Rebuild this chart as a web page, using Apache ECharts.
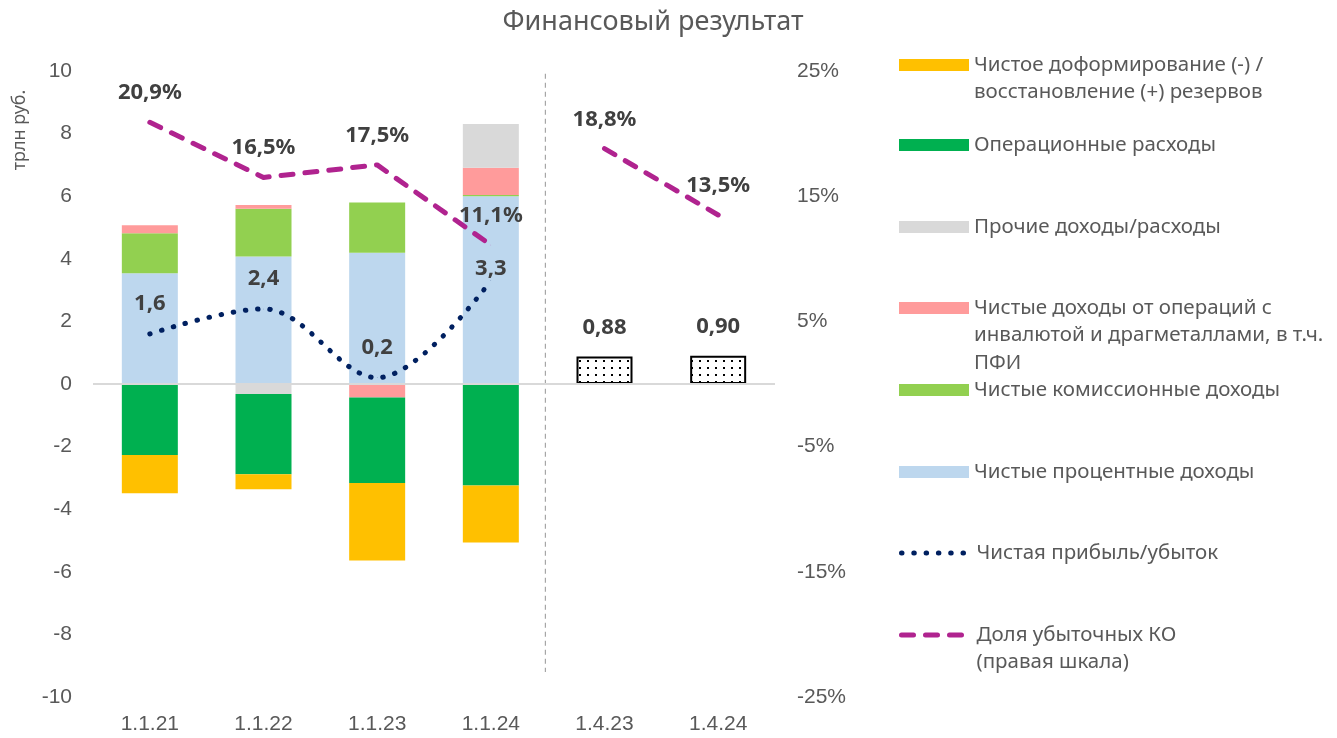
<!DOCTYPE html>
<html>
<head>
<meta charset="utf-8">
<script src="https://cdn.jsdelivr.net/npm/echarts@6/dist/echarts.min.js"></script>
<style>
  html, body { margin: 0; padding: 0; background: #ffffff; }
  #chart { width: 1337px; height: 738px; }
</style>
</head>
<body>
<div id="chart"></div>
<script>
// Categories (report dates)
const categories = ['1.1.21', '1.1.22', '1.1.23', '1.1.24', '1.4.23', '1.4.24'];

// Components of the financial result, трлн руб.
const interestIncome   = [3.54, 4.07, 4.19, 6.00, null, null];
const commissionIncome = [1.28, 1.53, 1.61, 0.04, null, null];
const fxIncome         = [0.25, 0.12, -0.43, 0.87, null, null];
const otherIncome      = [0.00, -0.32, 0.00, 1.40, null, null];
const operatingCosts   = [-2.27, -2.56, -2.73, -3.24, null, null];
const provisions       = [-1.22, -0.48, -2.48, -1.82, null, null];

// Net profit / loss, трлн руб.
const netProfit        = [1.6, 2.4, 0.2, 3.3, null, null];
const quarterProfit    = [null, null, null, null, 0.88, 0.90];

// Share of loss-making credit institutions, % (right axis)
const lossShareYear    = [20.9, 16.5, 17.5, 11.1, null, null];
const lossShareQuarter = [null, null, null, null, 18.8, 13.5];

// Axis ticks
const leftTicks  = { min: -10, max: 10, step: 2 };
const rightTicks = { min: -25, max: 25, step: 10 };

// Legend captions
const legendLabels = [
  'Чистое доформирование (-) /\nвосстановление (+) резервов',
  'Операционные расходы',
  'Прочие доходы/расходы',
  'Чистые доходы от операций с\nинвалютой и драгметаллами, в т.ч.\nПФИ',
  'Чистые комиссионные доходы',
  'Чистые процентные доходы',
  'Чистая прибыль/убыток',
  'Доля убыточных КО\n(правая шкала)'
];

const FONT = '"Noto Sans", "DejaVu Sans", sans-serif';
const TICK_FONT = '"Liberation Sans", Arial, sans-serif';
const TEXT = '#595959';
const LABEL = '#404040';

// Separator between the annual and the quarterly block (position on the hidden value x axis)
const DIVIDER_X = 3.48;
const DIVIDER_SPAN = [10.2, -9.2];

// dotted fill for the quarterly bars
function dotPattern() {
  const c = document.createElement('canvas');
  c.width = 8; c.height = 7;
  const g = c.getContext('2d');
  g.fillStyle = '#ffffff';
  g.fillRect(0, 0, 8, 7);
  g.fillStyle = '#000000';
  g.fillRect(3, 3, 2, 2);
  return c;
}

const fmt1 = v => v.toFixed(1).replace('.', ',');
const fmt2 = v => v.toFixed(2).replace('.', ',');

const valueLabel = (formatter, distance) => ({
  show: true, position: 'top', distance: distance,
  formatter: formatter,
  fontFamily: FONT, fontSize: 22, fontWeight: 'bold', color: LABEL
});

const chart = echarts.init(document.getElementById('chart'), null, { renderer: 'canvas' });

const barCommon = {
  type: 'bar',
  stack: 'fin',
  barWidth: 56,
  xAxisIndex: 0,
  yAxisIndex: 0,
  z: 2
};

const DOTTED = { color: '#002060', width: 5, type: [0.5, 11.8], cap: 'round' };
const DASHED = { color: '#B0238F', width: 5, type: [12, 12], cap: 'round', join: 'round' };

const series = [
  Object.assign({}, barCommon, {
    name: legendLabels[5], data: interestIncome, itemStyle: { color: '#BDD7EE' },
    markLine: {
      silent: true, symbol: ['none', 'none'], label: { show: false },
      lineStyle: { color: '#D9D9D9', width: 2, type: 'solid' },
      data: [{ yAxis: 0 }], z: 5
    }
  }),
  Object.assign({}, barCommon, { name: legendLabels[4], data: commissionIncome, itemStyle: { color: '#92D050' } }),
  Object.assign({}, barCommon, { name: legendLabels[3], data: fxIncome, itemStyle: { color: '#FF9B9B' } }),
  Object.assign({}, barCommon, { name: legendLabels[2], data: otherIncome, itemStyle: { color: '#D9D9D9' } }),
  Object.assign({}, barCommon, { name: legendLabels[1], data: operatingCosts, itemStyle: { color: '#00B050' } }),
  Object.assign({}, barCommon, { name: legendLabels[0], data: provisions, itemStyle: { color: '#FFC000' } }),
  Object.assign({}, barCommon, {
    name: 'Чистая прибыль за квартал',
    data: quarterProfit,
    itemStyle: { color: { image: dotPattern(), repeat: 'repeat' }, borderColor: '#000000', borderWidth: 2 },
    label: valueLabel(p => fmt2(p.value), 18)
  }),
  {
    name: legendLabels[6],
    type: 'line',
    xAxisIndex: 0, yAxisIndex: 0,
    data: netProfit.map((v, i) => (i === 3 ? { value: v, label: { distance: 1 } } : v)),
    smooth: 0.35,
    symbol: 'circle', symbolSize: 0.5, showSymbol: true,
    z: 4,
    lineStyle: DOTTED,
    itemStyle: { color: '#002060' },
    label: valueLabel(p => fmt1(p.value), 19),
    labelLayout: { hideOverlap: false }
  },
  {
    name: legendLabels[7],
    type: 'line',
    xAxisIndex: 0, yAxisIndex: 1,
    data: lossShareYear,
    symbol: 'circle', symbolSize: 0.5, showSymbol: true,
    z: 4,
    lineStyle: DASHED,
    itemStyle: { color: '#B0238F' },
    label: valueLabel(p => fmt1(p.value) + '%', 18)
  },
  {
    name: legendLabels[7],
    type: 'line',
    xAxisIndex: 0, yAxisIndex: 1,
    data: lossShareQuarter,
    symbol: 'circle', symbolSize: 0.5, showSymbol: true,
    z: 4,
    lineStyle: DASHED,
    itemStyle: { color: '#B0238F' },
    label: valueLabel(p => fmt1(p.value) + '%', 18)
  },
  {
    name: 'divider',
    type: 'line',
    xAxisIndex: 1, yAxisIndex: 0,
    data: DIVIDER_SPAN.map(y => [DIVIDER_X, y]),
    symbol: 'none',
    silent: true,
    z: 1,
    lineStyle: { color: '#A6A6A6', width: 1.2, type: [5, 4] }
  }
];

// Each legend entry is positioned on its own: the icon sits on the first text line
const LINE_H = 27.5;
const legendRows = [
  { idx: 0, y: 65 },
  { idx: 1, y: 145 },
  { idx: 2, y: 227 },
  { idx: 3, y: 308 },
  { idx: 4, y: 390 },
  { idx: 5, y: 472 },
  { idx: 6, y: 553, line: DOTTED },
  { idx: 7, y: 635, line: DASHED }
];
const legends = legendRows.map(r => {
  const lines = legendLabels[r.idx].split('\n').length;
  // blank lines on top keep the first caption line level with the icon
  const lead = new Array(lines - 1).fill('\u00a0');
  const leg = {
    left: 899,
    top: r.y - ((2 * lines - 1) * LINE_H) / 2,
    padding: 0,
    orient: 'vertical',
    selectedMode: false,
    itemWidth: 70,
    itemHeight: 12,
    data: [{ name: legendLabels[r.idx] }],
    formatter: name => lead.concat([name]).join('\n'),
    textStyle: { fontFamily: FONT, fontSize: 20.5, color: TEXT, lineHeight: LINE_H }
  };
  if (r.line) {
    leg.data[0].itemStyle = { opacity: 0 };
    leg.lineStyle = { color: r.line.color, width: r.line.width, type: r.line.type, cap: 'round' };
  } else {
    leg.data[0].icon = 'rect';
  }
  return leg;
});

chart.setOption({
  animation: false,
  backgroundColor: '#ffffff',
  textStyle: { fontFamily: FONT },
  grid: { left: 93, right: 562, top: 71, bottom: 41, containLabel: false },
  legend: legends,
  xAxis: [
    {
      type: 'category',
      data: categories,
      axisLine: { show: false },
      axisTick: { show: false },
      splitLine: { show: false },
      axisLabel: { margin: 17, fontFamily: TICK_FONT, fontSize: 21, color: TEXT }
    },
    {
      type: 'value', min: -0.5, max: 5.5, show: false,
      splitLine: { show: false }
    }
  ],
  yAxis: [
    {
      type: 'value',
      min: leftTicks.min, max: leftTicks.max, interval: leftTicks.step,
      axisLine: { show: false }, axisTick: { show: false },
      splitLine: { show: false },
      axisLabel: { margin: 21, fontFamily: TICK_FONT, fontSize: 21, color: TEXT }
    },
    {
      type: 'value',
      min: rightTicks.min, max: rightTicks.max, interval: rightTicks.step,
      axisLine: { show: false }, axisTick: { show: false },
      splitLine: { show: false },
      axisLabel: { margin: 22, fontFamily: TICK_FONT, fontSize: 21, color: TEXT, formatter: '{value}%' }
    }
  ],
  graphic: [
    {
      type: 'text', x: 653, y: 22,
      style: { text: 'Финансовый результат', fontFamily: FONT, fontSize: 27, fill: TEXT, align: 'center', verticalAlign: 'middle' }
    },
    {
      type: 'text', x: 20, y: 130, rotation: Math.PI / 2,
      style: { text: 'трлн руб.', fontFamily: FONT, fontSize: 18, fill: TEXT, align: 'center', verticalAlign: 'middle' }
    }
  ],
  series: series
});
</script>
</body>
</html>
